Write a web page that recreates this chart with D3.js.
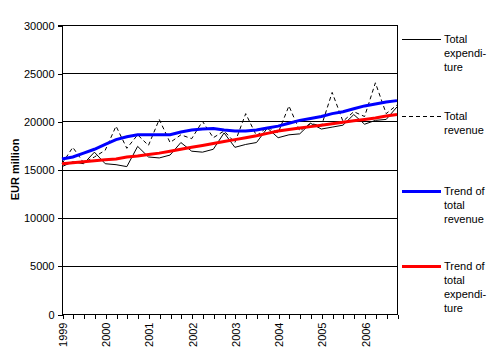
<!DOCTYPE html>
<html>
<head>
<meta charset="utf-8">
<script src="https://cdn.jsdelivr.net/npm/d3@7"></script>
<style>
  body { margin: 0; background: #fff; }
  svg { font-family: "Liberation Sans", Arial, sans-serif; font-size: 11px; }
  .crisp line, .crisp path { shape-rendering: crispEdges; }
</style>
</head>
<body>
<svg id="drawing_region"></svg>
<script>
// quarterly data, 1999Q1 .. 2006Q4 (EUR million)
const years = [1999, 2000, 2001, 2002, 2003, 2004, 2005, 2006];
const yTicks = [0, 5000, 10000, 15000, 20000, 25000, 30000];

const totalExpenditure = [
    15300, 15800, 15600, 16800,
    15600, 15500, 15300, 17400,
    16300, 16200, 16500, 17800,
    16900, 16800, 17100, 18800,
    17300, 17600, 17800, 19300,
    18300, 18600, 18700, 19800,
    19200, 19400, 19600, 20700,
    19700, 20100, 20200, 21500
];
const totalRevenue = [
    15600, 17300, 15700, 16300,
    17000, 19500, 17200, 18600,
    17500, 20200, 17800, 18600,
    18200, 20000, 18300, 19000,
    17800, 20800, 18500, 19400,
    18800, 21600, 19000, 19800,
    19500, 23000, 20000, 21000,
    20500, 24000, 20800, 21700
];
const trendRevenue = [
    16100, 16300, 16700, 17100,
    17600, 18100, 18400, 18600,
    18600, 18600, 18600, 18900,
    19100, 19200, 19250, 19100,
    19000, 19000, 19100, 19300,
    19500, 19800, 20100, 20300,
    20500, 20800, 21000, 21300,
    21600, 21800, 22000, 22150
];
const trendExpenditure = [
    15600, 15700, 15800, 15900,
    16000, 16100, 16300, 16400,
    16550, 16700, 16900, 17100,
    17300, 17500, 17700, 17900,
    18100, 18300, 18500, 18750,
    19000, 19150, 19300, 19450,
    19600, 19750, 19900, 20050,
    20200, 20350, 20550, 20700
];

const config = {
    width: 492,
    height: 353,
    left: 62, right: 397, top: 25, bottom: 314
};

const svg = d3.select('#drawing_region')
    .attr('width', config.width)
    .attr('height', config.height);

const n = totalRevenue.length;
const xscale = d3.scaleLinear().domain([0, n - 1]).range([config.left, config.right]);
const yscale = d3.scaleLinear().domain([0, 30000]).range([config.bottom, config.top]);

// gridlines
svg.append('g').attr('class', 'crisp').selectAll('line')
    .data(yTicks.filter(d => d > 0))
    .enter().append('line')
    .attr('x1', config.left).attr('x2', config.right)
    .attr('y1', d => yscale(d) + 0.5).attr('y2', d => yscale(d) + 0.5)
    .attr('stroke', '#000').attr('stroke-width', 1);

// right border
svg.append('line')
    .attr('x1', config.right + 0.5).attr('x2', config.right + 0.5)
    .attr('y1', config.top).attr('y2', config.bottom)
    .attr('stroke', '#000')
    .style('shape-rendering', 'crispEdges');

// y axis
const yaxis = d3.axisLeft(yscale).tickValues(yTicks).tickSize(5).tickPadding(3).tickFormat(d3.format('d'));
const yg = svg.append('g')
    .attr('class', 'crisp')
    .attr('transform', `translate(${config.left + 0.5},0.5)`)
    .call(yaxis);
yg.selectAll('text').attr('font-size', 11).attr('font-family', '"Liberation Sans", Arial, sans-serif').attr('fill', '#000');
yg.selectAll('line, path').attr('stroke', '#000');
yg.select('.domain').attr('d', `M-5,${config.top}H0V${config.bottom}`);

// x axis, one tick per quarter
const xaxis = d3.axisBottom(xscale)
    .tickValues(d3.range(n))
    .tickSize(4)
    .tickFormat(i => i % 4 === 0 ? String(years[i / 4]) : '');
const xg = svg.append('g')
    .attr('class', 'crisp')
    .attr('transform', `translate(0.5,${config.bottom + 0.5})`)
    .call(xaxis);
xg.selectAll('line, path').attr('stroke', '#000');
xg.select('.domain').attr('d', `M${config.left},0H${config.right}`);
xg.selectAll('text')
    .attr('font-size', 11)
    .attr('font-family', '"Liberation Sans", Arial, sans-serif')
    .attr('fill', '#000')
    .attr('text-anchor', 'end')
    .attr('dy', null)
    .attr('y', 0)
    .attr('transform', 'translate(4,8) rotate(-90)');

// y label
svg.append('text')
    .attr('transform', `translate(19,${(config.top + config.bottom) / 2}) rotate(-90)`)
    .attr('text-anchor', 'middle')
    .attr('font-weight', 'bold')
    .attr('font-size', 11)
    .text('EUR million');

// lines
const line = d3.line().x((d, i) => xscale(i)).y(d => yscale(d));

const series = [
    { values: totalExpenditure, color: '#000', width: 1, dash: null,
      label: ['Total', 'expendi-', 'ture'], ly: 39 },
    { values: totalRevenue, color: '#000', width: 1, dash: '4,3',
      label: ['Total', 'revenue'], ly: 116 },
    { values: trendRevenue, color: '#0000ff', width: 3, dash: null,
      label: ['Trend of', 'total', 'revenue'], ly: 191 },
    { values: trendExpenditure, color: '#ff0000', width: 3, dash: null,
      label: ['Trend of', 'total', 'expendi-', 'ture'], ly: 266 }
];

const plot = svg.append('g');
[0, 1, 3, 2].forEach(k => {
    const s = series[k];
    plot.append('path')
        .attr('d', line(s.values))
        .attr('fill', 'none')
        .attr('stroke', s.color)
        .attr('stroke-width', s.width)
        .attr('stroke-dasharray', s.dash);
});

// legend
const legend = svg.append('g');
series.forEach(s => {
    legend.append('line')
        .attr('x1', 402).attr('x2', 441)
        .attr('y1', s.ly + 0.5).attr('y2', s.ly + 0.5)
        .attr('stroke', s.color)
        .attr('stroke-width', s.width)
        .attr('stroke-dasharray', s.dash);
    s.label.forEach((t, j) => {
        legend.append('text')
            .attr('x', 444)
            .attr('y', s.ly + 4 + j * 14)
            .text(t);
    });
});
</script>
</body>
</html>
